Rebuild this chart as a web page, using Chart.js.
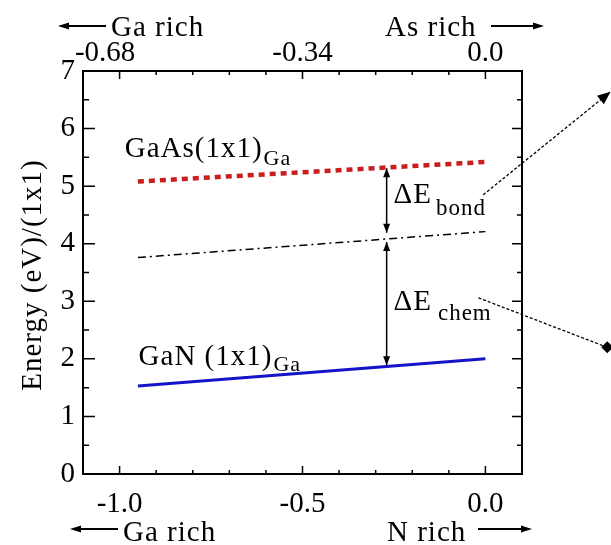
<!DOCTYPE html>
<html>
<head>
<meta charset="utf-8">
<script src="https://cdn.jsdelivr.net/npm/chart.js@4.4.1/dist/chart.umd.min.js"></script>
<style>
  body { margin: 0; background: #fff; }
  #wrap { width: 611px; height: 545px; }
</style>
</head>
<body>
<div id="wrap"><canvas id="chart" width="611" height="545"></canvas></div>
<script>
// bottom axis (N chemical potential) and top axis (As chemical potential)
const bottomTicks = [-1.0, -0.9, -0.8, -0.7, -0.6, -0.5, -0.4, -0.3, -0.2, -0.1, 0.0];
const bottomLabels = { "-1": "-1.0", "-0.5": "-0.5", "0": "0.0" };
const topTicks = [-0.68, -0.612, -0.544, -0.476, -0.408, -0.34, -0.272, -0.204, -0.136, -0.068, 0.0];
const topLabels = ["-0.68    ", "", "", "", "", "-0.34", "", "", "", "", "0.0"];
const yTicks = [0, 0.5, 1, 1.5, 2, 2.5, 3, 3.5, 4, 4.5, 5, 5.5, 6, 6.5, 7];

// lines
const gaAsX = [-0.95, 0.0];
const gaAsY = [5.08, 5.42];
const midX = [-0.95, 0.0];
const midY = [3.76, 4.21];
const ganX = [-0.95, 0.0];
const ganY = [1.53, 2.0];

// energy difference arrows at this x
const arrowX = -0.27;
const bondArrow = [5.31, 4.19];
const chemArrow = [4.03, 1.89];

// pointer lines from the labels to outside the plot (data units)
const bondPointer = [[-0.006, 4.85], [0.342, 6.64]];
const chemPointer = [[-0.019, 3.06], [0.333, 2.2]];

function pts(xs, ys) {
  return xs.map((x, i) => ({ x: x, y: ys[i] }));
}

const FONT = "'Liberation Serif', 'Times New Roman', Times, serif";

function arrowHead(ctx, x, y, ang, len, w) {
  ctx.save();
  ctx.translate(x, y);
  ctx.rotate(ang);
  ctx.beginPath();
  ctx.moveTo(0, 0);
  ctx.lineTo(-len, -w / 2);
  ctx.lineTo(-len, w / 2);
  ctx.closePath();
  ctx.fill();
  ctx.restore();
}

function subText(ctx, x, y, main, sub, size, subSize, drop, gap) {
  ctx.font = size + "px " + FONT;
  ctx.fillText(main, x, y);
  let w = ctx.measureText(main).width;
  ctx.font = subSize + "px " + FONT;
  ctx.fillText(sub, x + w + gap, y + drop);
}

const decor = {
  id: "decor",
  afterDraw(chart) {
    const ctx = chart.ctx;
    const a = chart.chartArea;
    const sx = chart.scales.x, sy = chart.scales.y, st = chart.scales.x2;
    ctx.save();
    ctx.strokeStyle = "#000";
    ctx.fillStyle = "#000";

    // frame
    ctx.lineWidth = 2;
    ctx.strokeRect(a.left, a.top, a.right - a.left, a.bottom - a.top);

    // inward ticks
    ctx.lineWidth = 1.5;
    ctx.beginPath();
    bottomTicks.forEach(v => {
      const px = sx.getPixelForValue(v);
      const major = Math.abs(v * 2 - Math.round(v * 2)) < 1e-6;
      ctx.moveTo(px, a.bottom);
      ctx.lineTo(px, a.bottom - (major ? 8 : 4));
    });
    topTicks.forEach((v, i) => {
      const px = st.getPixelForValue(v);
      const major = i % 5 === 0;
      ctx.moveTo(px, a.top);
      ctx.lineTo(px, a.top + (major ? 8 : 4));
    });
    yTicks.forEach(v => {
      const py = sy.getPixelForValue(v);
      const major = Number.isInteger(v);
      ctx.moveTo(a.left, py);
      ctx.lineTo(a.left + (major ? 12 : 6), py);
      ctx.moveTo(a.right, py);
      ctx.lineTo(a.right - (major ? 10 : 5), py);
    });
    ctx.stroke();

    // energy difference arrows
    const ax = sx.getPixelForValue(arrowX);
    ctx.lineWidth = 1.5;
    [bondArrow, chemArrow].forEach(seg => {
      const y1 = sy.getPixelForValue(seg[0]);
      const y2 = sy.getPixelForValue(seg[1]);
      ctx.beginPath();
      ctx.moveTo(ax, y1);
      ctx.lineTo(ax, y2);
      ctx.stroke();
      arrowHead(ctx, ax, y1, -Math.PI / 2, 9, 7);
      arrowHead(ctx, ax, y2, Math.PI / 2, 9, 7);
    });

    // dashed pointers
    ctx.lineWidth = 1.3;
    ctx.setLineDash([3, 2]);
    [bondPointer, chemPointer].forEach(p => {
      ctx.beginPath();
      ctx.moveTo(sx.getPixelForValue(p[0][0]), sy.getPixelForValue(p[0][1]));
      ctx.lineTo(sx.getPixelForValue(p[1][0]), sy.getPixelForValue(p[1][1]));
      ctx.stroke();
    });
    ctx.setLineDash([]);
    const bx0 = sx.getPixelForValue(bondPointer[0][0]), by0 = sy.getPixelForValue(bondPointer[0][1]);
    const bx1 = sx.getPixelForValue(bondPointer[1][0]), by1 = sy.getPixelForValue(bondPointer[1][1]);
    arrowHead(ctx, bx1, by1, Math.atan2(by1 - by0, bx1 - bx0), 13, 11);
    const cx1 = sx.getPixelForValue(chemPointer[1][0]), cy1 = sy.getPixelForValue(chemPointer[1][1]);
    ctx.beginPath();
    ctx.moveTo(cx1, cy1 - 6);
    ctx.lineTo(cx1 + 6, cy1);
    ctx.lineTo(cx1, cy1 + 6);
    ctx.lineTo(cx1 - 6, cy1);
    ctx.closePath();
    ctx.fill();

    // labels in the plot
    ctx.letterSpacing = "1px";
    ctx.textAlign = "left";
    ctx.textBaseline = "alphabetic";
    subText(ctx, sx.getPixelForValue(-0.986), sy.getPixelForValue(5.51), "GaAs(1x1)", "Ga", 29, 22, 8, 1);
    subText(ctx, sx.getPixelForValue(-0.948), sy.getPixelForValue(1.89), "GaN (1x1)", "Ga", 29, 22, 6, 1);
    subText(ctx, sx.getPixelForValue(-0.251), sy.getPixelForValue(4.71), "\u0394E", "bond", 29, 23, 12, 4);
    subText(ctx, sx.getPixelForValue(-0.251), sy.getPixelForValue(2.85), "\u0394E", "chem", 29, 23, 10, 6);

    // axis direction notes
    ctx.font = "29px " + FONT;
    ctx.lineWidth = 1.8;
    const notes = [
      { text: "Ga rich", x: 111, y: 36, ay: 26, ax0: 106, ax1: 58, dir: -1 },
      { text: "As rich", x: 385, y: 36, ay: 26, ax0: 491, ax1: 544, dir: 1 },
      { text: "Ga rich", x: 123, y: 541, ay: 529, ax0: 118, ax1: 70, dir: -1 },
      { text: "N rich", x: 387, y: 541, ay: 529, ax0: 478, ax1: 532, dir: 1 }
    ];
    notes.forEach(n => {
      ctx.fillText(n.text, n.x, n.y);
      ctx.beginPath();
      ctx.moveTo(n.ax0, n.ay);
      ctx.lineTo(n.ax1 - n.dir * 8, n.ay);
      ctx.stroke();
      arrowHead(ctx, n.ax1, n.ay, n.dir > 0 ? 0 : Math.PI, 11, 7);
    });

    // y axis title
    ctx.translate(33, 275);
    ctx.rotate(-Math.PI / 2);
    ctx.textAlign = "center";
    ctx.textBaseline = "middle";
    ctx.fillText("Energy (eV)/(1x1)", 0, 0);
    ctx.restore();
  }
};

const tickFont = { family: FONT, size: 29 };

new Chart(document.getElementById("chart"), {
  type: "scatter",
  data: {
    datasets: [
      {
        label: "GaAs(1x1)Ga",
        data: pts(gaAsX, gaAsY),
        showLine: true,
        borderColor: "#c81e1e",
        borderWidth: 4.5,
        borderDash: [6, 5],
        pointRadius: 0
      },
      {
        label: "reference",
        data: pts(midX, midY),
        showLine: true,
        borderColor: "#000",
        borderWidth: 1.5,
        borderDash: [8, 4, 2, 4],
        pointRadius: 0
      },
      {
        label: "GaN(1x1)Ga",
        data: pts(ganX, ganY),
        showLine: true,
        borderColor: "#1414c8",
        borderWidth: 3,
        pointRadius: 0
      }
    ]
  },
  options: {
    responsive: false,
    devicePixelRatio: 1,
    animation: false,
    layout: { padding: { left: 0, right: 89, top: 0, bottom: 0 } },
    plugins: {
      legend: { display: false },
      tooltip: { enabled: false }
    },
    scales: {
      x: {
        type: "linear",
        position: "bottom",
        min: -1.1,
        max: 0.1,
        afterFit(s) { s.height = 71; },
        afterBuildTicks(s) { s.ticks = bottomTicks.map(v => ({ value: v })); },
        grid: { display: false, drawTicks: false },
        border: { display: false },
        ticks: {
          autoSkip: false,
          maxRotation: 0,
          padding: 13,
          color: "#000",
          font: tickFont,
          callback: v => bottomLabels[String(Math.round(v * 10) / 10)] || ""
        }
      },
      x2: {
        type: "linear",
        axis: "x",
        position: "top",
        min: -0.748,
        max: 0.068,
        afterFit(s) { s.height = 71; },
        afterBuildTicks(s) { s.ticks = topTicks.map(v => ({ value: v })); },
        grid: { display: false, drawTicks: false },
        border: { display: false },
        ticks: {
          autoSkip: false,
          maxRotation: 0,
          padding: 0,
          color: "#000",
          font: tickFont,
          callback: (v, i) => topLabels[i]
        }
      },
      y: {
        min: 0,
        max: 7,
        afterFit(s) { s.width = 83; },
        afterBuildTicks(s) { s.ticks = yTicks.map(v => ({ value: v })); },
        grid: { display: false, drawTicks: false },
        border: { display: false },
        ticks: {
          autoSkip: false,
          padding: 8,
          color: "#000",
          font: tickFont,
          callback: v => Number.isInteger(v) ? String(v) : ""
        }
      }
    }
  },
  plugins: [decor]
});
</script>
</body>
</html>
